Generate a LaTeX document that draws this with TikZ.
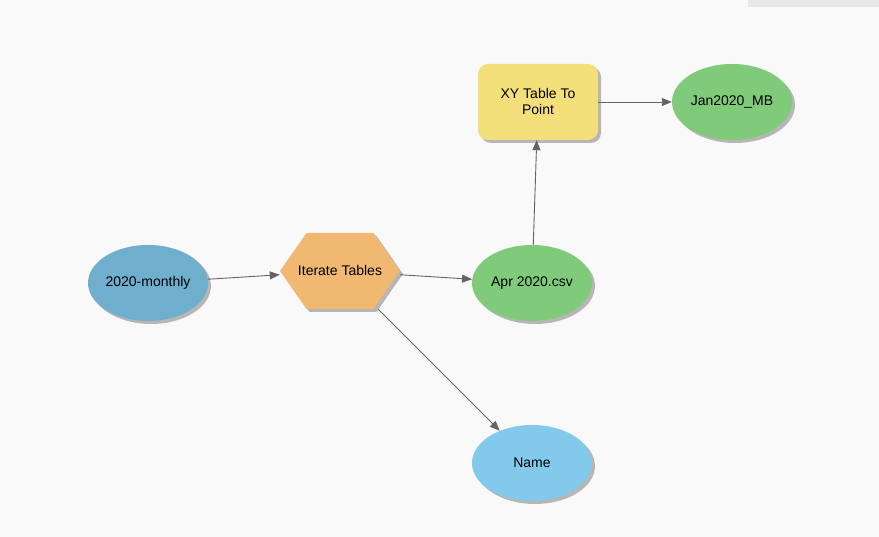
\documentclass[tikz,border=0pt]{standalone}
\usepackage{fontspec}
\setmainfont{Liberation Sans}
\usepackage{tikz}
\usetikzlibrary{shapes.geometric}
\usetikzlibrary{shadows}
\usetikzlibrary{arrows.meta}

\definecolor{bgcol}{RGB}{249,249,249}
\definecolor{bandcol}{RGB}{232,232,232}
\definecolor{moncol}{RGB}{111,174,204}
\definecolor{itercol}{RGB}{240,184,112}
\definecolor{datacol}{RGB}{128,203,122}
\definecolor{toolcol}{RGB}{243,224,122}
\definecolor{namecol}{RGB}{130,201,236}
\definecolor{linecol}{RGB}{100,100,100}

\tikzset{
  shade/.style={drop shadow={shadow xshift=3pt,shadow yshift=-3pt,fill=black!35,opacity=0.8}},
  oval/.style={ellipse,minimum width=120pt,minimum height=76pt,inner sep=0pt,shade},
  tool/.style={rectangle,rounded corners=10pt,minimum width=120pt,minimum height=76pt,align=center,shade},
  iterbox/.style={rectangle,minimum width=120pt,minimum height=76pt,inner sep=0pt},
  link/.style={draw=linecol,line width=0.9pt,-{Triangle[length=10pt,width=8pt]}}
}

\begin{document}
\begin{tikzpicture}[x=1pt,y=1pt,font=\fontsize{14}{16}\selectfont]

%background
\fill[bgcol] (0,0) rectangle (879,537);
\fill[bandcol] (748,530) rectangle (879,537);
\useasboundingbox (0,0) rectangle (879,537);

%Iterate Tables
\fill[itercol,shade] (280,266) -- (306.5,304) -- (373.5,304) -- (400,266) -- (373.5,228) -- (306.5,228) -- cycle;
\node[iterbox] (iter) at (340,266) {Iterate Tables};

%nodes
\node[oval,fill=moncol] (mon) at (148,254) {2020-monthly};
\node[oval,fill=datacol] (apr) at (532,254) {Apr 2020.csv};
\node[tool,fill=toolcol] (xy) at (538,435) {XY Table To\\Point};
\node[oval,fill=datacol] (jan) at (732,435) {Jan2020\_MB};
\node[oval,fill=namecol] (name) at (532,74) {Name};

%links
\draw[link] (mon) -- (iter);
\draw[link] (iter) -- (apr);
\draw[link] (apr) -- (xy);
\draw[link] (xy) -- (jan);
\draw[link] (iter) -- (name);

\end{tikzpicture}
\end{document}
